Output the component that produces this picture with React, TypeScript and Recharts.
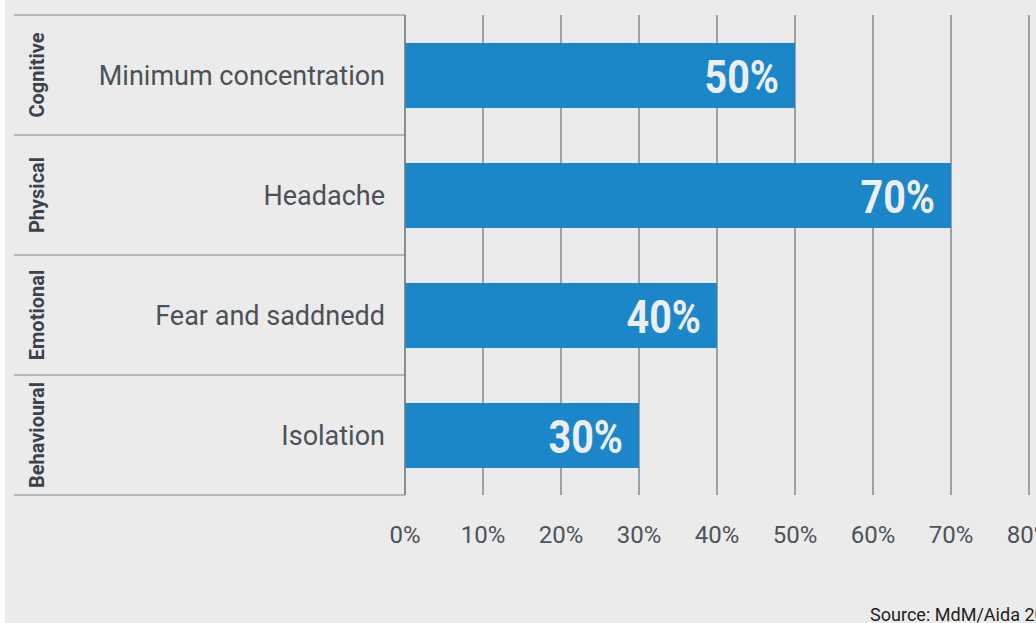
import { BarChart, Bar, XAxis, YAxis, CartesianGrid, LabelList } from "recharts";

const GROUPS = ["Cognitive", "Physical", "Emotional", "Behavioural"];
const SYMPTOMS = ["Minimum concentration", "Headache", "Fear and saddnedd", "Isolation"];
const SHARES = [50, 70, 40, 30];
const X_TICKS = [0, 10, 20, 30, 40, 50, 60, 70, 80];

const data = SYMPTOMS.map((name, i) => ({ name, group: GROUPS[i], value: SHARES[i] }));

const FONT = "Roboto, 'Open Sans', sans-serif";
const LINE = "#7d8185";
// one row of the category band: plot height (480) / number of rows
const BAND = 480 / SYMPTOMS.length;

function CategoryTick(props: any) {
  const { x, y, payload } = props;
  const i = SYMPTOMS.indexOf(payload.value);
  const top = y - BAND / 2;
  return (
    <g>
      <line x1={14} x2={405} y1={top} y2={top} stroke={LINE} strokeWidth={1.2} />
      {i === SYMPTOMS.length - 1 && (
        <line x1={14} x2={405} y1={top + BAND} y2={top + BAND} stroke={LINE} strokeWidth={1.2} />
      )}
      <text
        x={44}
        y={y}
        transform={`rotate(-90 44 ${y})`}
        textAnchor="middle"
        fontFamily={FONT}
        fontSize={20}
        fontWeight={700}
        fill="#3b424a"
      >
        {GROUPS[i]}
      </text>
      <text x={x} y={y + 9.5} textAnchor="end" fontFamily={FONT} fontSize={27} fill="#4a5259">
        {payload.value}
      </text>
    </g>
  );
}

function ValueLabel(props: any) {
  const x = Number(props.x);
  const y = Number(props.y);
  const w = Number(props.width);
  const h = Number(props.height);
  const tx = x + w - 16;
  const ty = y + h / 2 + 17.5;
  return (
    <text
      transform={`translate(${tx} ${ty}) scale(0.84 1)`}
      textAnchor="end"
      fontFamily={FONT}
      fontSize={47}
      fontWeight={700}
      fill="#eeeeee"
    >
      {props.value}%
    </text>
  );
}

export default function App() {
  return (
    <div style={{ position: "absolute", left: 0, top: 0, width: 1036, height: 623, overflow: "hidden", background: "#fff" }}>
      <div style={{ position: "absolute", left: 5, top: 0, right: 0, bottom: 0, background: "#ecebeb" }} />
      <div style={{ position: "absolute", left: 0, top: 0 }}>
        <BarChart width={1036} height={623} data={data} layout="vertical" margin={{ top: 15, right: 7, bottom: 68, left: 0 }}>
          <CartesianGrid horizontal={false} stroke="#85888b" strokeWidth={1.5} />
          <XAxis
            type="number"
            domain={[0, 80]}
            ticks={X_TICKS}
            tickFormatter={(v) => `${v}%`}
            axisLine={false}
            tickLine={false}
            tickSize={0}
            tickMargin={31}
            height={60}
            interval={0}
            tick={{ fontFamily: FONT, fontSize: 24, fill: "#4b535b" }}
          />
          <YAxis
            type="category"
            dataKey="name"
            width={405}
            axisLine={{ stroke: LINE, strokeWidth: 1.2 }}
            tickLine={false}
            tickSize={0}
            tickMargin={20}
            interval={0}
            tick={<CategoryTick />}
          />
          <Bar dataKey="value" fill="#1b87c9" barSize={65} isAnimationActive={false}>
            <LabelList dataKey="value" content={<ValueLabel />} />
          </Bar>
        </BarChart>
      </div>
      <svg width={1036} height={623} style={{ position: "absolute", left: 0, top: 0, pointerEvents: "none" }}>
        <text transform="translate(870 621) scale(0.95 1)" fontFamily={FONT} fontSize={19} fill="#222">
          Source: MdM/Aida 2020
        </text>
      </svg>
    </div>
  );
}
